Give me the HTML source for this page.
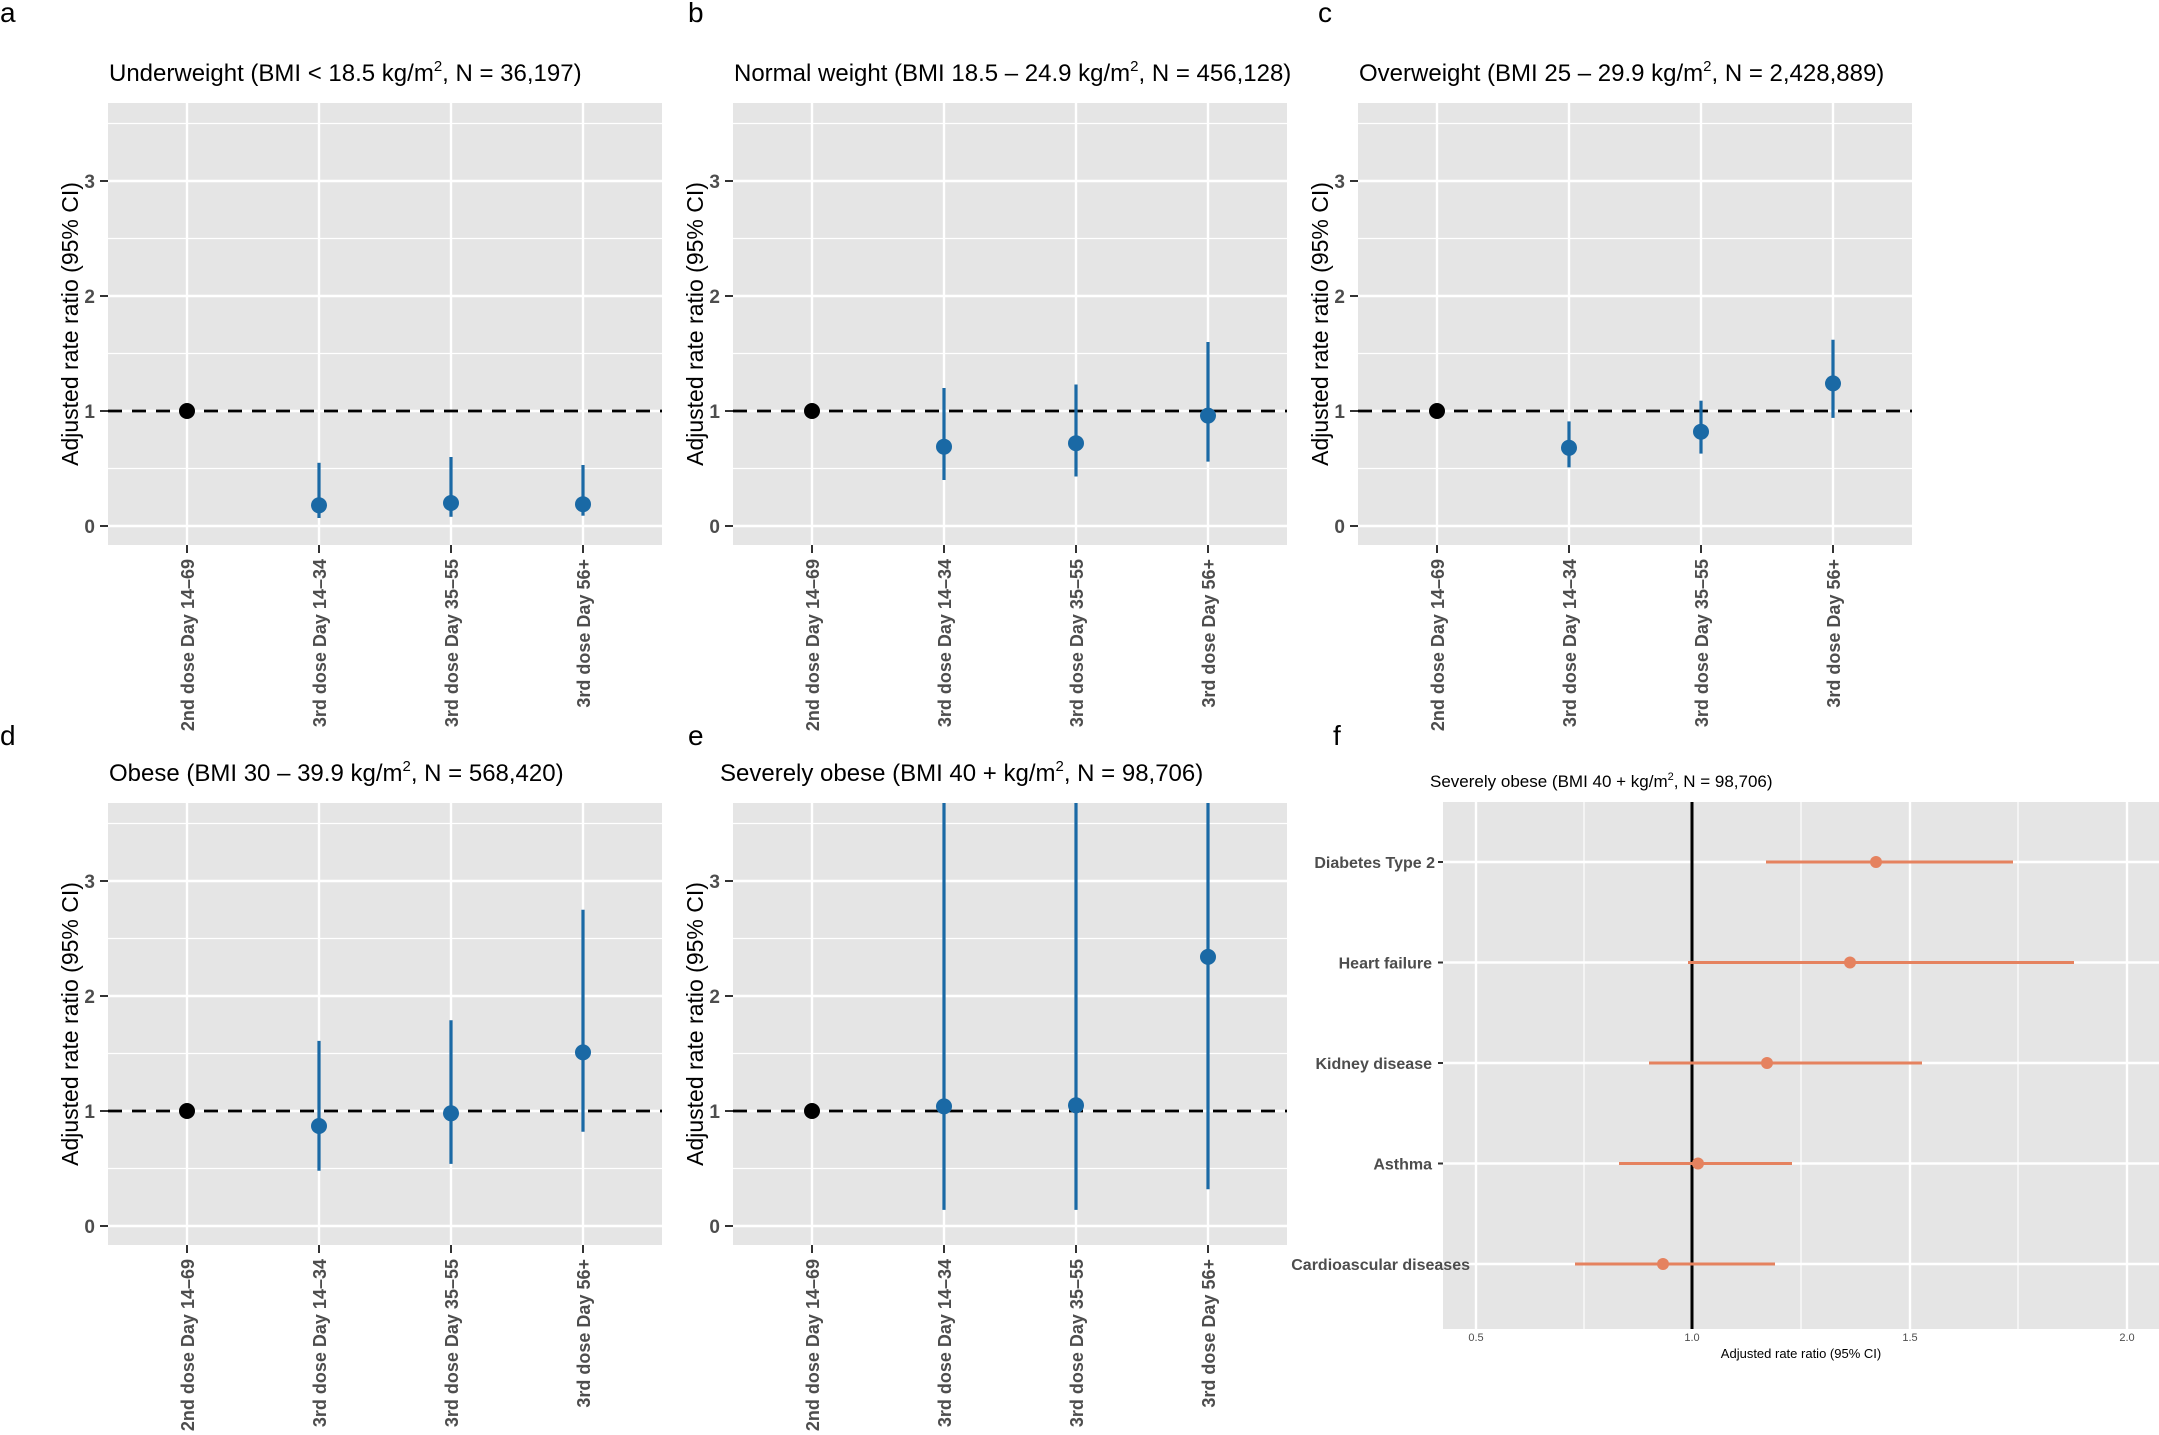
<!DOCTYPE html>
<html><head><meta charset="utf-8"><style>
html,body{margin:0;padding:0;background:#fff;}
svg{display:block;}
text{font-family:"Liberation Sans",Arial,sans-serif;}
.t{font-size:24px;fill:#000;}
.yl{font-size:19px;font-weight:bold;fill:#4d4d4d;text-anchor:end;}
.xl{font-size:18px;font-weight:bold;fill:#4d4d4d;text-anchor:end;}
.yt{font-size:23px;fill:#000;text-anchor:middle;}
.lt{font-size:28px;fill:#000;}
.bg{fill:#e5e5e5;}
.mj{stroke:#fff;stroke-width:2.4;}
.mn{stroke:#fff;stroke-width:1.2;}
.tk{stroke:#333;stroke-width:2;}
.ci{stroke:#1a69a5;stroke-width:3.2;}
.pb{fill:#1a69a5;}
.dash{stroke:#000;stroke-width:2.8;stroke-dasharray:14,10;}
.nar{font-family:"Liberation Sans Narrow","Liberation Sans",sans-serif;}
</style></head><body>
<svg width="2159" height="1435" viewBox="0 0 2159 1435" xmlns="http://www.w3.org/2000/svg">
<defs>
<g id="frame">
<rect class="bg" x="108" y="103" width="554" height="442"/>
<line class="mn" x1="108" x2="662" y1="468.5" y2="468.5"/>
<line class="mn" x1="108" x2="662" y1="353.5" y2="353.5"/>
<line class="mn" x1="108" x2="662" y1="238.5" y2="238.5"/>
<line class="mn" x1="108" x2="662" y1="123.5" y2="123.5"/>
<line class="mj" x1="108" x2="662" y1="526" y2="526"/>
<line class="mj" x1="108" x2="662" y1="411" y2="411"/>
<line class="mj" x1="108" x2="662" y1="296" y2="296"/>
<line class="mj" x1="108" x2="662" y1="181" y2="181"/>
<line class="mj" x1="187" x2="187" y1="103" y2="545"/>
<line class="mj" x1="319" x2="319" y1="103" y2="545"/>
<line class="mj" x1="451" x2="451" y1="103" y2="545"/>
<line class="mj" x1="583" x2="583" y1="103" y2="545"/>
<line class="tk" x1="100" x2="108" y1="526" y2="526"/>
<line class="tk" x1="100" x2="108" y1="411" y2="411"/>
<line class="tk" x1="100" x2="108" y1="296" y2="296"/>
<line class="tk" x1="100" x2="108" y1="181" y2="181"/>
<line class="tk" x1="187" x2="187" y1="545" y2="553"/>
<line class="tk" x1="319" x2="319" y1="545" y2="553"/>
<line class="tk" x1="451" x2="451" y1="545" y2="553"/>
<line class="tk" x1="583" x2="583" y1="545" y2="553"/>
<text class="yl" x="95" y="533">0</text>
<text class="yl" x="95" y="418">1</text>
<text class="yl" x="95" y="303">2</text>
<text class="yl" x="95" y="188">3</text>
<text class="xl" transform="translate(194,559) rotate(-90)">2nd dose Day 14–69</text>
<text class="xl" transform="translate(326,559) rotate(-90)">3rd dose Day 14–34</text>
<text class="xl" transform="translate(458,559) rotate(-90)">3rd dose Day 35–55</text>
<text class="xl" transform="translate(590,559) rotate(-90)">3rd dose Day 56+</text>
<text class="yt" transform="translate(78,324) rotate(-90)">Adjusted rate ratio (95% CI)</text>
<line class="dash" x1="108" x2="662" y1="411" y2="411"/>
<circle cx="187" cy="411" r="8" fill="#000"/>
</g>
</defs>

<text class="lt" x="0" y="22">a</text>
<text class="t" x="109" y="81">Underweight (BMI &lt; 18.5 kg/m<tspan dy="-10" font-size="15">2</tspan><tspan dy="10">,  N = 36,197)</tspan></text>
<use href="#frame"/>
<line class="ci" x1="319" x2="319" y1="462.8" y2="518"/><circle class="pb" cx="319" cy="505.3" r="8"/>
<line class="ci" x1="451" x2="451" y1="457" y2="516.8"/><circle class="pb" cx="451" cy="503" r="8"/>
<line class="ci" x1="583" x2="583" y1="465" y2="515.7"/><circle class="pb" cx="583" cy="504.2" r="8"/>

<text class="lt" x="688" y="22">b</text>
<g transform="translate(625,0)">
<text class="t" x="109" y="81">Normal weight (BMI 18.5 – 24.9 kg/m<tspan dy="-10" font-size="15">2</tspan><tspan dy="10">,  N = 456,128)</tspan></text>
<use href="#frame"/>
<line class="ci" x1="319" x2="319" y1="388" y2="480"/><circle class="pb" cx="319" cy="446.7" r="8"/>
<line class="ci" x1="451" x2="451" y1="384.5" y2="476.5"/><circle class="pb" cx="451" cy="443.2" r="8"/>
<line class="ci" x1="583" x2="583" y1="342" y2="461.6"/><circle class="pb" cx="583" cy="415.6" r="8"/>
</g>

<text class="lt" x="1318" y="22">c</text>
<g transform="translate(1250,0)">
<text class="t" x="109" y="81">Overweight (BMI 25 – 29.9 kg/m<tspan dy="-10" font-size="15">2</tspan><tspan dy="10">,  N = 2,428,889)</tspan></text>
<use href="#frame"/>
<line class="ci" x1="319" x2="319" y1="421.4" y2="467.4"/><circle class="pb" cx="319" cy="447.8" r="8"/>
<line class="ci" x1="451" x2="451" y1="400.7" y2="453.6"/><circle class="pb" cx="451" cy="431.7" r="8"/>
<line class="ci" x1="583" x2="583" y1="339.7" y2="417.9"/><circle class="pb" cx="583" cy="383.4" r="8"/>
</g>

<text class="lt" x="0" y="745">d</text>
<g transform="translate(0,700)">
<text class="t" x="109" y="81">Obese (BMI 30 – 39.9 kg/m<tspan dy="-10" font-size="15">2</tspan><tspan dy="10">,  N = 568,420)</tspan></text>
<use href="#frame"/>
<line class="ci" x1="319" x2="319" y1="340.9" y2="470.8"/><circle class="pb" cx="319" cy="426" r="8"/>
<line class="ci" x1="451" x2="451" y1="320.2" y2="463.9"/><circle class="pb" cx="451" cy="413.3" r="8"/>
<line class="ci" x1="583" x2="583" y1="209.8" y2="431.7"/><circle class="pb" cx="583" cy="352.4" r="8"/>
</g>

<text class="lt" x="688" y="745">e</text>
<g transform="translate(625,700)">
<text class="t" x="95" y="81">Severely obese (BMI 40 + kg/m<tspan dy="-10" font-size="15">2</tspan><tspan dy="10">,  N = 98,706)</tspan></text>
<use href="#frame"/>
<line class="ci" x1="319" x2="319" y1="103" y2="509.9"/><circle class="pb" cx="319" cy="406.4" r="8"/>
<line class="ci" x1="451" x2="451" y1="103" y2="509.9"/><circle class="pb" cx="451" cy="405.3" r="8"/>
<line class="ci" x1="583" x2="583" y1="103" y2="489.2"/><circle class="pb" cx="583" cy="256.9" r="8"/>
</g>

<text class="lt" x="1333" y="745">f</text>
<text class="nar" x="1430" y="787" font-size="17" fill="#000">Severely  obese (BMI 40 + kg/m<tspan dy="-7" font-size="11">2</tspan><tspan dy="7">,  N = 98,706)</tspan></text>
<rect class="bg" x="1443" y="802" width="716" height="527"/>
<line class="mn" x1="1584" x2="1584" y1="802" y2="1329"/>
<line class="mn" x1="1801" x2="1801" y1="802" y2="1329"/>
<line class="mn" x1="2018" x2="2018" y1="802" y2="1329"/>
<line class="mj" x1="1476" x2="1476" y1="802" y2="1329"/>
<line class="mj" x1="1910" x2="1910" y1="802" y2="1329"/>
<line class="mj" x1="2127" x2="2127" y1="802" y2="1329"/>
<line class="mj" x1="1443" x2="2159" y1="862" y2="862"/>
<line class="mj" x1="1443" x2="2159" y1="962.5" y2="962.5"/>
<line class="mj" x1="1443" x2="2159" y1="1063" y2="1063"/>
<line class="mj" x1="1443" x2="2159" y1="1163.5" y2="1163.5"/>
<line class="mj" x1="1443" x2="2159" y1="1264" y2="1264"/>
<line x1="1692" x2="1692" y1="802" y2="1329" stroke="#000" stroke-width="3"/>
<g class="nar" font-size="16" font-weight="bold" fill="#4d4d4d" text-anchor="end">
<text x="1435" y="868">Diabetes Type 2</text>
<text x="1432" y="968.5">Heart failure</text>
<text x="1432" y="1069">Kidney disease</text>
<text x="1432" y="1169.5">Asthma</text>
<text x="1470" y="1270">Cardioascular diseases</text>
</g>
<g stroke="#333" stroke-width="2">
<line x1="1438" x2="1443" y1="862" y2="862"/><line x1="1438" x2="1443" y1="962.5" y2="962.5"/>
<line x1="1438" x2="1443" y1="1063" y2="1063"/><line x1="1438" x2="1443" y1="1163.5" y2="1163.5"/>
</g>
<g stroke="#e5825f" stroke-width="3">
<line x1="1766" x2="2013" y1="862" y2="862"/>
<line x1="1688" x2="2074" y1="962.5" y2="962.5"/>
<line x1="1649" x2="1922" y1="1063" y2="1063"/>
<line x1="1619" x2="1792" y1="1163.5" y2="1163.5"/>
<line x1="1575" x2="1775" y1="1264" y2="1264"/>
</g>
<g fill="#e5825f">
<circle cx="1876" cy="862" r="6"/>
<circle cx="1850" cy="962.5" r="6"/>
<circle cx="1767" cy="1063" r="6"/>
<circle cx="1698" cy="1163.5" r="6"/>
<circle cx="1663" cy="1264" r="6"/>
</g>
<g class="nar" font-size="11" fill="#4d4d4d" text-anchor="middle">
<text x="1476" y="1341">0.5</text><text x="1692" y="1341">1.0</text>
<text x="1910" y="1341">1.5</text><text x="2127" y="1341">2.0</text>
</g>
<text class="nar" x="1801" y="1358" font-size="13" fill="#000" text-anchor="middle">Adjusted rate ratio (95% CI)</text>
</svg>
</body></html>
